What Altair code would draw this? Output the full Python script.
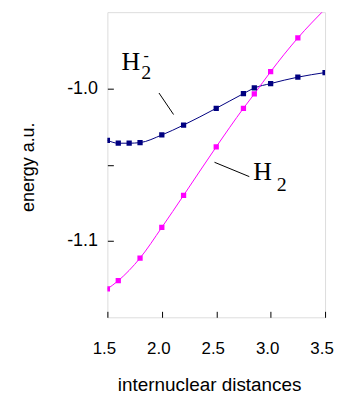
import altair as alt
import pandas as pd

# H2- (navy) series
x_h2m = [1.5, 1.6, 1.7, 1.8, 2.0, 2.2, 2.5, 2.75, 2.85, 3.0, 3.25, 3.5]
y_h2m = [-1.034, -1.0359, -1.0359, -1.0355, -1.0305, -1.024, -1.013, -1.0034, -0.9997, -0.9968, -0.9926, -0.9896]

# H2 (magenta) series
x_h2 = [1.5, 1.6, 1.8, 2.0, 2.2, 2.5, 2.75, 2.85, 3.0, 3.25, 3.5]
y_h2 = [-1.1314, -1.126, -1.1112, -1.0911, -1.0701, -1.0383, -1.013, -1.0036, -0.989, -0.9669, -0.948]

series_names = ["H2-", "H2"]
series_colors = ["#000080", "#FF00FF"]

x_ticks = [1.5, 2.0, 2.5, 3.0, 3.5]
y_ticks = [-1.1, -1.05, -1.0]

df = pd.concat([
    pd.DataFrame({"x": x_h2m, "y": y_h2m, "s": "H2-"}),
    pd.DataFrame({"x": x_h2, "y": y_h2, "s": "H2"}),
])

# annotation texts (data coordinates)
ann_text = pd.DataFrame({
    "x": [1.715, 1.812, 1.857, 2.9255, 3.055],
    "y": [-0.9879, -0.9937, -0.9788, -1.0599, -1.0675],
    "t": ["H", "2", "-", "H", "2"],
    "size": [26, 20, 16, 26, 20],
    "align": ["center", "left", "center", "center", "left"],
})
ann_lines = pd.DataFrame({
    "x": [1.974, 2.484], "y": [-1.003, -1.0484],
    "x2": [2.108, 2.804], "y2": [-1.0171, -1.0578],
})

xs = alt.Scale(domain=[1.5, 3.5], nice=False, zero=False)
ys = alt.Scale(domain=[-1.15, -0.95], nice=False, zero=False)
cs = alt.Scale(domain=series_names, range=series_colors)

xaxis = alt.Axis(values=x_ticks, format=".1f", offset=-6, tickSize=6, domain=False, grid=False,
                 labelFlush=False, labelOverlap=False, labelBound=False, labelOffset=-3.5,
                 labelFont="Liberation Sans", labelFontSize=17, labelPadding=23, labelColor="black",
                 tickColor="black", title="internuclear distances", titleFont="Liberation Sans",
                 titleFontSize=19, titleFontWeight="normal", titleColor="black",
                 titleX=102.4, titleY=80, titleBaseline="alphabetic", titleAlign="center")
yaxis = alt.Axis(values=y_ticks, offset=-6, tickSize=6, domain=False, grid=False,
                 labelExpr="abs(datum.value + 1.05) < 0.001 ? '' : replace(format(datum.value, '.1f'), '\u2212', '-')",
                 labelFont="Liberation Sans", labelFontSize=18, labelPadding=10, labelColor="black",
                 tickColor="black", title="energy a.u.", titleFont="Liberation Sans",
                 titleFontSize=18, titleFontWeight="normal", titleColor="black",
                 titleX=-85.5, titleY=155.5, titleAngle=-90, titleBaseline="middle", titleAlign="center")

base = alt.Chart(df)
lines = base.mark_line(interpolate="monotone", strokeWidth=1, clip=True).encode(
    x=alt.X("x:Q", scale=xs, axis=xaxis),
    y=alt.Y("y:Q", scale=ys, axis=yaxis),
    color=alt.Color("s:N", scale=cs, legend=None),
    detail="s:N",
)
points = base.mark_point(shape="square", filled=True, size=28, opacity=1, clip=True).encode(
    x=alt.X("x:Q", scale=xs),
    y=alt.Y("y:Q", scale=ys),
    color=alt.Color("s:N", scale=cs, legend=None),
)
leaders = alt.Chart(ann_lines).mark_rule(color="black", strokeWidth=1).encode(
    x=alt.X("x:Q", scale=xs), y=alt.Y("y:Q", scale=ys), x2="x2:Q", y2="y2:Q",
)
texts = []
for i, row in ann_text.iterrows():
    texts.append(
        alt.Chart(ann_text.iloc[[i]]).mark_text(
            font="Liberation Serif", fontSize=int(row["size"]), align=row["align"],
            baseline="middle" if row["t"] == "-" else "alphabetic", color="black",
        ).encode(x=alt.X("x:Q", scale=xs), y=alt.Y("y:Q", scale=ys), text="t:N")
    )

chart = alt.layer(lines, points, leaders, *texts).properties(
    width=219, height=307,
    autosize=alt.AutoSizeParams(type="none"),
    padding={"left": 100, "top": 3, "right": 10, "bottom": 76},
).configure_view(stroke="black", strokeWidth=1).configure(background="white")

chart.save("out.html", embed_options={"renderer": "svg", "actions": False})
